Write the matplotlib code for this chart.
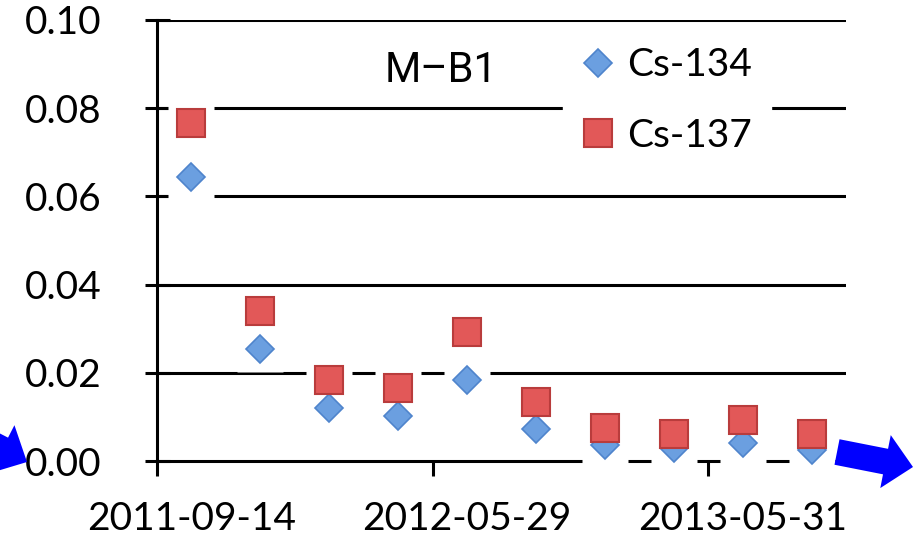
import matplotlib
matplotlib.use("Agg")
import matplotlib.pyplot as plt
from matplotlib.patches import FancyArrow
import numpy as np

categories = ["2011-09-14", "", "", "", "2012-05-29", "", "", "", "2013-05-31", ""]
cs134 = [0.0643, 0.0255, 0.0120, 0.0102, 0.0183, 0.0072, 0.0036, 0.0030, 0.0041, 0.0025]
cs137 = [0.0766, 0.0340, 0.0183, 0.0165, 0.0292, 0.0134, 0.0074, 0.0061, 0.0092, 0.0061]
yticks = [0.00, 0.02, 0.04, 0.06, 0.08, 0.10]
title = "M\u2013B1"

plt.rcParams['font.family'] = ['Lato', 'DejaVu Sans']

W, H = 920, 537
fig = plt.figure(figsize=(W / 100, H / 100), dpi=100)
ax = fig.add_axes([157 / W, (H - 461) / H, 689 / W, 441 / H])

x = np.arange(len(categories))
ax.set_xlim(-0.5, len(categories) - 0.5)
ax.set_ylim(0, 0.10)

# gridlines
for v in yticks[1:]:
    ax.axhline(v, color='black', lw=2.2, zorder=1)

for s in ['top', 'right']:
    ax.spines[s].set_visible(False)
ax.spines['left'].set_linewidth(2.2)
ax.spines['bottom'].set_linewidth(2.2)
ax.spines['left'].set_zorder(6)
ax.spines['bottom'].set_zorder(1)

ax.set_yticks(yticks)
ax.set_yticklabels([f"{v:.2f}" for v in yticks])
ax.tick_params(axis='y', direction='inout', length=18, width=2.2, labelsize=28, pad=31)

lab_idx = [i for i, c in enumerate(categories) if c]
ax.set_xticks([i - 0.5 for i in lab_idx])
ax.set_xticklabels([])
ax.tick_params(axis='x', which='major', direction='out', length=11, width=2.2)
ax.set_xticks(lab_idx, minor=True)
ax.set_xticklabels([categories[i] for i in lab_idx], minor=True)
ax.tick_params(axis='x', which='minor', length=0, labelsize=28, pad=29)

# white halos (shadow/glow) behind markers
ax.plot(x, cs134, ls='none', marker='s', ms=33, mfc='white', mec='none', zorder=3, clip_on=False)
ax.plot(x, cs137, ls='none', marker='s', ms=33, mfc='white', mec='none', zorder=3, clip_on=False)

ax.plot(x, cs134, ls='none', marker='D', ms=14, mfc='#6b9fe0', mec='#4f84cc', mew=1.2,
        zorder=4, clip_on=False, label='Cs-134')
ax.plot(x, cs137, ls='none', marker='s', ms=20, mfc='#e25858', mec='#b93c3c', mew=1.5,
        zorder=5, clip_on=False, label='Cs-137')

ax.text((441 - 157) / 689, (461 - 70) / 441, title, transform=ax.transAxes,
        ha='center', va='center', fontsize=30, color='black',
        family=['Roboto', 'DejaVu Sans'], zorder=7)

leg = ax.legend(loc='upper left', bbox_to_anchor=(563 / W, 1 - 28 / H),
                bbox_transform=fig.transFigure, fontsize=28, frameon=True,
                facecolor='white', edgecolor='white', framealpha=1, fancybox=False,
                handlelength=0.8, handletextpad=0.35, labelspacing=0.88, borderpad=0.5,
                borderaxespad=0)
leg.set_zorder(8)

# blue arrows in figure pixel space
ov = fig.add_axes([0, 0, 1, 1], zorder=10)
ov.set_xlim(0, W)
ov.set_ylim(H, 0)
ov.axis('off')
ov.add_patch(FancyArrow(837, 452, 76, 15, width=26, head_width=54, head_length=28,
                        length_includes_head=True, color='#0000ff', lw=0))
ov.add_patch(FancyArrow(-45, 425, 72, 37, width=26, head_width=54, head_length=28,
                        length_includes_head=True, color='#0000ff', lw=0))

fig.savefig('out.png', dpi=100)
